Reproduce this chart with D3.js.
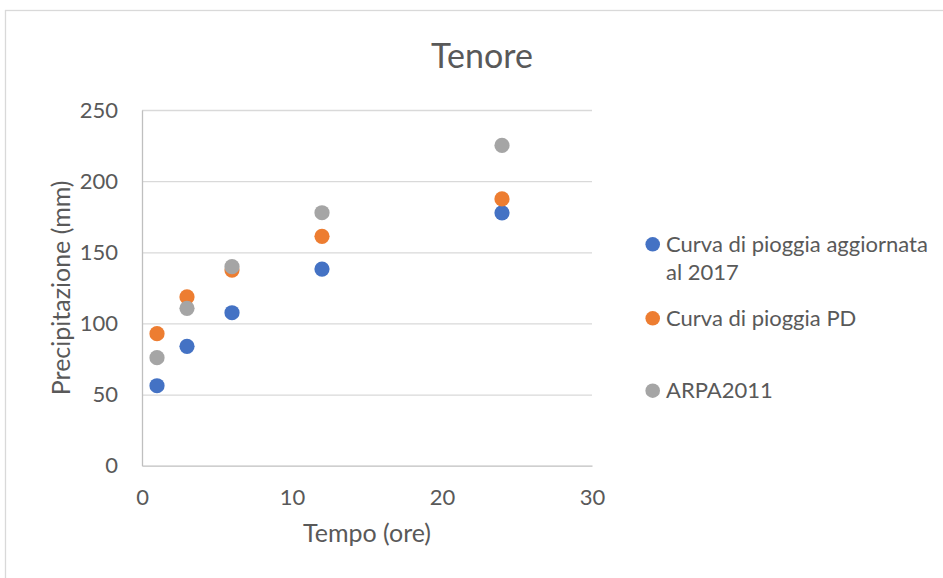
<!DOCTYPE html>
<html>

<head>
	<meta charset="utf-8">
	<title>Tenore</title>
	<style>
		body {
			margin: 0;
			background: #fff;
			font-family: Lato, "Open Sans", sans-serif;
		}
		text {
			fill: #595959;
		}
		.grid line {
			stroke: #d9d9d9;
			stroke-width: 1.3;
		}
		.grid path {
			display: none;
		}
		.axis path {
			stroke: #bfbfbf;
			stroke-width: 1.3;
			fill: none;
		}
		.axis line {
			display: none;
		}
		.tick text {
			font-size: 22px;
		}
		.label {
			font-size: 25px;
		}
		.title {
			font-size: 34px;
		}
		.legend text {
			font-size: 22px;
		}
	</style>
</head>

<body>

	<div id="chart"></div>

	<script src="https://cdnjs.cloudflare.com/ajax/libs/d3/7.8.5/d3.min.js"></script>

	<script type="text/javascript">

		// durata in ore
		var tempo = [1, 3, 6, 12, 24];

		// precipitazione (mm) per serie
		var aggiornata2017 = [56.2, 83.9, 107.5, 138.2, 177.7];
		var curvaPD = [92.8, 118.6, 137.5, 161.2, 187.5];
		var arpa2011 = [75.9, 110.6, 139.9, 177.8, 225.1];

		var seriesNames = ["Curva di pioggia aggiornata al 2017", "Curva di pioggia PD", "ARPA2011"];
		var seriesColors = ["#4472c4", "#ed7d31", "#a5a5a5"];

		var xTicks = [0, 10, 20, 30];
		var yTicks = [0, 50, 100, 150, 200, 250];

		var W = 943, H = 578;
		var plot = { left: 142, top: 110, right: 592, bottom: 465.7 };

		var svg = d3.select("#chart").append("svg")
			.attr("width", W)
			.attr("height", H);

		// bordo del grafico (esce dalla finestra a destra e in basso)
		svg.append("rect")
			.attr("x", 5.5)
			.attr("y", 10.5)
			.attr("width", W + 20)
			.attr("height", H + 20)
			.attr("fill", "#fff")
			.attr("stroke", "#d9d9d9")
			.attr("stroke-width", 1.3);

		var xScale = d3.scaleLinear().domain([0, 30]).range([plot.left, plot.right]);
		var yScale = d3.scaleLinear().domain([0, 250]).range([plot.bottom, plot.top]);

		// griglia orizzontale
		svg.append("g")
			.attr("class", "grid")
			.attr("transform", "translate(" + plot.left + ",0)")
			.call(d3.axisLeft(yScale).tickValues(yTicks.slice(1)).tickSize(-(plot.right - plot.left)).tickFormat(""));

		// asse y
		var yAxis = svg.append("g")
			.attr("class", "axis")
			.attr("transform", "translate(" + plot.left + ",0)")
			.call(d3.axisLeft(yScale).tickValues(yTicks).tickSizeOuter(0).tickPadding(18));
		yAxis.selectAll(".tick text")
			.attr("dy", "0.32em");

		// asse x
		var xAxis = svg.append("g")
			.attr("class", "axis")
			.attr("transform", "translate(0," + plot.bottom + ")")
			.call(d3.axisBottom(xScale).tickValues(xTicks).tickSizeOuter(0).tickPadding(18));
		xAxis.selectAll(".tick text")
			.attr("dy", "0.71em");

		svg.selectAll(".tick text")
			.attr("fill", "#595959")
			.style("font-family", "Lato, 'Open Sans', sans-serif");

		svg.append("text")
			.attr("class", "title")
			.attr("text-anchor", "middle")
			.attr("x", 482)
			.attr("y", 67.7)
			.text("Tenore");

		svg.append("text")
			.attr("class", "label")
			.attr("text-anchor", "middle")
			.attr("x", (plot.left + plot.right) / 2)
			.attr("y", 541.7)
			.text("Tempo (ore)");

		svg.append("text")
			.attr("class", "label")
			.attr("text-anchor", "middle")
			.attr("transform", "translate(70," + (plot.top + plot.bottom) / 2 + ") rotate(-90)")
			.text("Precipitazione (mm)");

		var series = [aggiornata2017, curvaPD, arpa2011].map(function(vals, i) {
			return {
				name: seriesNames[i],
				color: seriesColors[i],
				points: vals.map(function(v, j) { return { x: tempo[j], y: v }; })
			};
		});

		svg.selectAll(".serie")
			.data(series)
			.enter()
			.append("g")
			.attr("class", "serie")
			.attr("fill", function(d) { return d.color; })
			.selectAll("circle")
			.data(function(d) { return d.points; })
			.enter()
			.append("circle")
			.attr("cx", function(d) { return xScale(d.x); })
			.attr("cy", function(d) { return yScale(d.y); })
			.attr("r", 7.6);

		// legenda
		var legendRows = [
			{ y: 244.3, lines: ["Curva di pioggia aggiornata", "al 2017"] },
			{ y: 318.3, lines: ["Curva di pioggia PD"] },
			{ y: 390.7, lines: ["ARPA2011"] }
		];

		var legend = svg.append("g").attr("class", "legend");

		var item = legend.selectAll("g")
			.data(legendRows)
			.enter()
			.append("g")
			.attr("transform", function(d) { return "translate(652.7," + d.y + ")"; });

		item.append("circle")
			.attr("r", 7.3)
			.attr("fill", function(d, i) { return seriesColors[i]; });

		item.append("text")
			.attr("x", 13.3)
			.attr("y", 7.4)
			.selectAll("tspan")
			.data(function(d) { return d.lines; })
			.enter()
			.append("tspan")
			.attr("x", 13.3)
			.attr("dy", function(d, i) { return i === 0 ? 0 : 28.3; })
			.text(function(d) { return d; });

	</script>

</body>

</html>
